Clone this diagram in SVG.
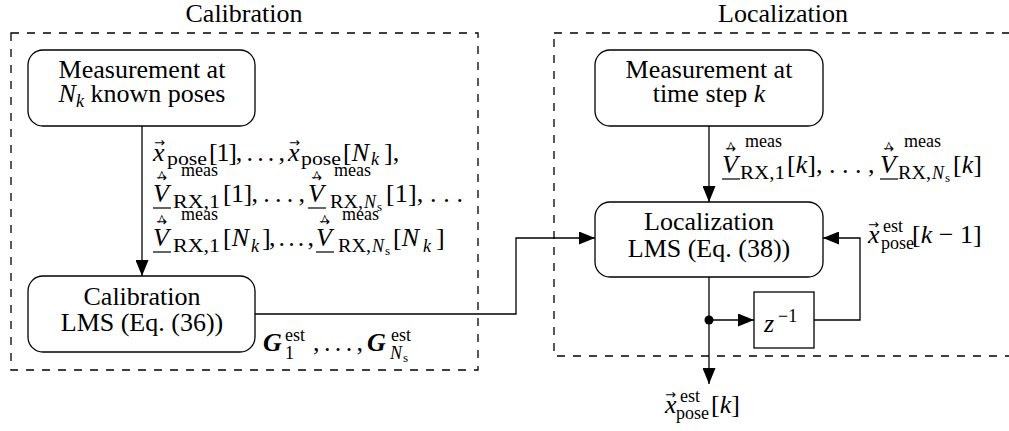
<svg xmlns="http://www.w3.org/2000/svg" width="1009" height="431" viewBox="0 0 1009 431">
<style>
.t{font-family:"Liberation Serif","DejaVu Serif",serif;font-size:26px;fill:#000}
.i{font-style:italic}
.b{font-weight:bold}
.s{font-size:18px}
.ss{font-size:13px}
.ar{font-family:"DejaVu Sans",sans-serif;font-size:13px;fill:#000}
.hat{font-family:"Liberation Serif","DejaVu Serif",serif;font-size:16px;fill:#000}
.frame{fill:none;stroke:#000;stroke-width:1.3;stroke-dasharray:8 8}
.node{fill:#fff;stroke:#000;stroke-width:1.3}
.wire{fill:none;stroke:#000;stroke-width:1.3}
.ul{stroke:#000;stroke-width:1.2}
</style>
<defs>
<marker id="arr" markerUnits="userSpaceOnUse" markerWidth="17" markerHeight="13" refX="16" refY="6.5" orient="auto">
<path d="M0,0 L16,6.5 L0,13 z" fill="#000"/>
</marker>
</defs>

<g id="calibration-frame">
<rect class="frame" x="11" y="33" width="467" height="337"/>
<text class="t" x="244" y="22" text-anchor="middle">Calibration</text>
</g>
<g id="localization-frame">
<rect class="frame" x="554" y="33" width="460" height="323"/>
<text class="t" x="783" y="22" text-anchor="middle">Localization</text>
</g>

<g id="connectors">
<line class="wire" x1="142" y1="126" x2="142" y2="276" marker-end="url(#arr)"/>
<path class="wire" d="M255,314 H516 V238 H595" marker-end="url(#arr)"/>
<line class="wire" x1="709" y1="126" x2="709" y2="202" marker-end="url(#arr)"/>
<line class="wire" x1="709" y1="277" x2="709" y2="384" marker-end="url(#arr)"/>
<line class="wire" x1="709" y1="320" x2="754" y2="320" marker-end="url(#arr)"/>
<path class="wire" d="M814,320 H860 V238 H823" marker-end="url(#arr)"/>
<circle cx="709" cy="320" r="4.5" fill="#000"/>
</g>

<g id="cal-measurement">
<rect class="node" x="28" y="50" width="227" height="76" rx="15"/>
<text class="t" x="142" y="78" text-anchor="middle">Measurement at</text>
<text class="t" x="142" y="102" text-anchor="middle"><tspan class="i">N</tspan><tspan class="s i" dy="5">k</tspan><tspan dy="-5"> known poses</tspan></text>
</g>

<g id="cal-lms">
<rect class="node" x="28" y="276" width="227" height="76" rx="15"/>
<text class="t" x="142" y="305" text-anchor="middle">Calibration</text>
<text class="t" x="142" y="331" text-anchor="middle">LMS (Eq. (36))</text>
</g>

<g id="loc-measurement">
<rect class="node" x="595" y="50" width="228" height="76" rx="15"/>
<text class="t" x="709" y="78" text-anchor="middle">Measurement at</text>
<text class="t" x="709" y="102" text-anchor="middle">time step <tspan class="i">k</tspan></text>
</g>

<g id="loc-lms">
<rect class="node" x="595" y="202" width="228" height="75" rx="15"/>
<text class="t" x="709" y="230" text-anchor="middle">Localization</text>
<text class="t" x="709" y="257" text-anchor="middle">LMS (Eq. (38))</text>
</g>

<g id="delay">
<rect class="node" x="754" y="292" width="60" height="56"/>
<text class="t i" x="764" y="332">z</text>
<text class="t s" x="778" y="322">−1</text>
</g>

<g id="label-calibration-inputs">
<!-- line 1 -->
<text class="t i" x="153" y="161">x</text>
<text class="ar" x="154" y="147">→</text>
<text class="t s" x="167" y="165" textLength="40" lengthAdjust="spacingAndGlyphs">pose</text>
<text class="t" x="209" y="161" textLength="76" lengthAdjust="spacing">[1], . . . ,</text>
<text class="t i" x="288" y="161">x</text>
<text class="ar" x="289" y="147">→</text>
<text class="t s" x="301" y="165" textLength="40" lengthAdjust="spacingAndGlyphs">pose</text>
<text class="t" x="343" y="161">[<tspan class="i">N</tspan></text>
<text class="t s i" x="371" y="165">k</text>
<text class="t" x="384" y="161">],</text>
<!-- line 2 -->
<text class="t i" x="153" y="202">V</text>
<line class="ul" x1="153" y1="208" x2="171" y2="208"/>
<text class="ar" x="156" y="182">→</text>
<text class="hat" x="158" y="182">^</text>
<text class="t s" x="181" y="176">meas</text>
<text class="t s" x="173" y="208" textLength="47" lengthAdjust="spacingAndGlyphs">RX,1</text>
<text class="t" x="223" y="202" textLength="82" lengthAdjust="spacing">[1], . . . ,</text>
<text class="t i" x="308" y="202">V</text>
<line class="ul" x1="308" y1="208" x2="326" y2="208"/>
<text class="ar" x="311" y="182">→</text>
<text class="hat" x="313" y="182">^</text>
<text class="t s" x="334" y="176">meas</text>
<text class="t s" x="330" y="208" textLength="33" lengthAdjust="spacingAndGlyphs">RX,</text>
<text class="t s i" x="364" y="208">N</text>
<text class="t ss" x="377" y="211">s</text>
<text class="t" x="386" y="202" textLength="77" lengthAdjust="spacing">[1], . . .</text>
<!-- line 3 -->
<text class="t i" x="153" y="246">V</text>
<line class="ul" x1="153" y1="252" x2="171" y2="252"/>
<text class="ar" x="156" y="226">→</text>
<text class="hat" x="158" y="226">^</text>
<text class="t s" x="181" y="220">meas</text>
<text class="t s" x="173" y="252" textLength="47" lengthAdjust="spacingAndGlyphs">RX,1</text>
<text class="t" x="223" y="246">[<tspan class="i">N</tspan></text>
<text class="t s i" x="251" y="252">k</text>
<text class="t" x="262" y="246" textLength="52" lengthAdjust="spacing">], . . . ,</text>
<text class="t i" x="316" y="246">V</text>
<line class="ul" x1="316" y1="252" x2="334" y2="252"/>
<text class="ar" x="319" y="226">→</text>
<text class="hat" x="321" y="226">^</text>
<text class="t s" x="342" y="220">meas</text>
<text class="t s" x="338" y="252" textLength="33" lengthAdjust="spacingAndGlyphs">RX,</text>
<text class="t s i" x="372" y="252">N</text>
<text class="t ss" x="385" y="255">s</text>
<text class="t" x="393" y="246">[<tspan class="i">N</tspan></text>
<text class="t s i" x="423" y="252">k</text>
<text class="t" x="436" y="246">]</text>
</g>

<g id="label-gains">
<text class="t i b" x="263" y="351">G</text>
<text class="t s" x="285" y="341">est</text>
<text class="t s" x="285" y="359">1</text>
<text class="t" x="313" y="351" textLength="50" lengthAdjust="spacing">, . . . ,</text>
<text class="t i b" x="367" y="351">G</text>
<text class="t s" x="391" y="341">est</text>
<text class="t s i" x="390" y="359">N</text>
<text class="t ss" x="403" y="362">s</text>
</g>

<g id="label-localization-inputs">
<text class="t i" x="722" y="173">V</text>
<line class="ul" x1="722" y1="179" x2="740" y2="179"/>
<text class="ar" x="725" y="153">→</text>
<text class="hat" x="727" y="153">^</text>
<text class="t s" x="745" y="147">meas</text>
<text class="t s" x="740" y="179" textLength="45" lengthAdjust="spacingAndGlyphs">RX,1</text>
<text class="t" x="787" y="173">[<tspan class="i">k</tspan>]<tspan>, . . . ,</tspan></text>
<text class="t i" x="880" y="173">V</text>
<line class="ul" x1="880" y1="179" x2="898" y2="179"/>
<text class="ar" x="883" y="153">→</text>
<text class="hat" x="885" y="153">^</text>
<text class="t s" x="904" y="147">meas</text>
<text class="t s" x="898" y="179" textLength="33" lengthAdjust="spacingAndGlyphs">RX,</text>
<text class="t s i" x="932" y="179">N</text>
<text class="t ss" x="945" y="182">s</text>
<text class="t" x="953" y="173">[<tspan class="i">k</tspan>]</text>
</g>

<g id="label-feedback">
<text class="t i" x="868" y="243">x</text>
<text class="ar" x="868" y="229">→</text>
<text class="t s" x="883" y="232">est</text>
<text class="t s" x="881" y="249">pose</text>
<text class="t" x="912" y="243">[<tspan class="i">k</tspan> − 1]</text>
</g>

<g id="label-output">
<text class="t i" x="665" y="413">x</text>
<text class="ar" x="665" y="399">→</text>
<text class="t s" x="680" y="402">est</text>
<text class="t s" x="676" y="419">pose</text>
<text class="t" x="711" y="413">[<tspan class="i">k</tspan>]</text>
</g>
</svg>
